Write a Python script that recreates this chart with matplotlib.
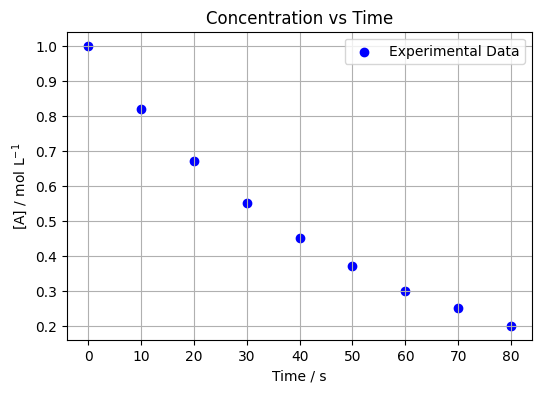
import matplotlib
matplotlib.use('Agg')
import matplotlib.pyplot as plt

# 实验数据
time_s = [0, 10, 20, 30, 40, 50, 60, 70, 80]
conc_A = [1.00, 0.82, 0.67, 0.55, 0.45, 0.37, 0.30, 0.25, 0.20]

fig, ax = plt.subplots(figsize=(6, 4))
ax.scatter(time_s, conc_A, color='blue', label='Experimental Data')
ax.set_xlabel('Time / s')
ax.set_ylabel('[A] / mol L$^{-1}$')
ax.set_title('Concentration vs Time')
ax.legend(loc='upper right')
ax.grid(True)

plt.savefig('out.png', dpi=100, bbox_inches='tight')
plt.close()
